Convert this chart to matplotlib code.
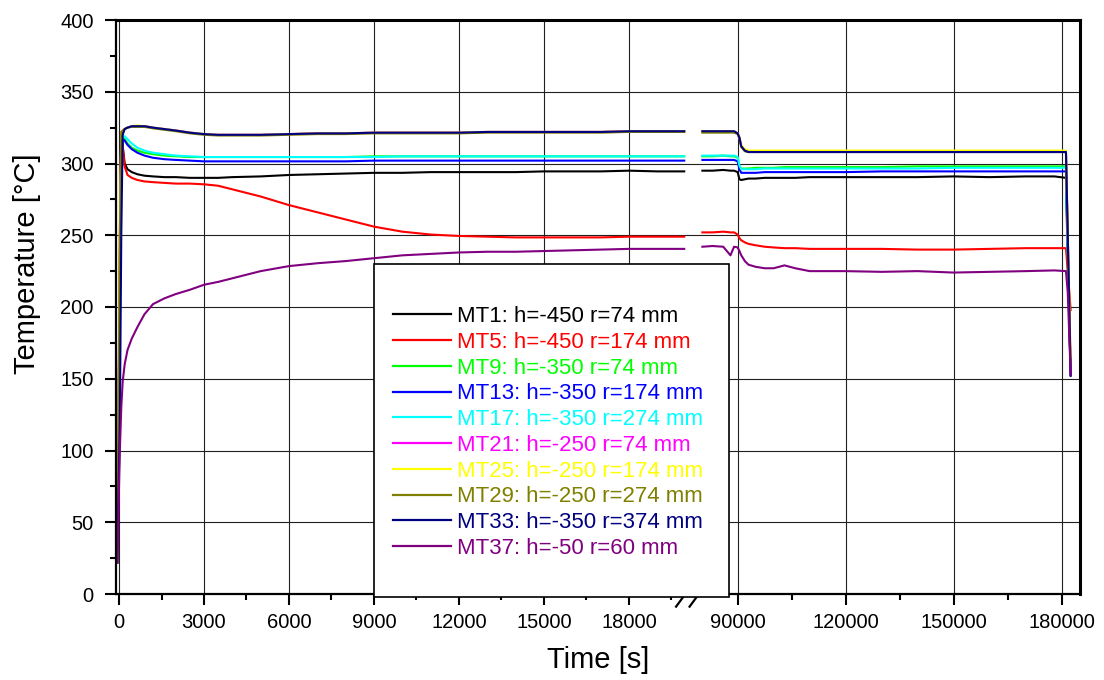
import numpy as np
import matplotlib
matplotlib.use("Agg")
import matplotlib.pyplot as plt
from matplotlib.patches import Rectangle
from matplotlib.ticker import FixedLocator

plt.rcParams["font.family"] = ["Liberation Sans", "DejaVu Sans"]

# ---- measurement data -------------------------------------------------------
# early heating phase (s)
t_early = [-60, 30, 80, 130, 200, 300, 450, 650, 900, 1200, 1600, 2000, 2500,
           3000, 3500, 4000, 5000, 6000, 7000, 8000, 9000, 10000, 11000, 12000,
           13000, 14000, 15000, 16000, 17000, 18000, 19000, 19950]
# late phase (s)
t_late = [80200, 83000, 86000, 88000, 89000, 90000, 90500, 91000, 92000, 93000,
          95000, 97500, 100000, 103000, 106000, 110000, 120000, 130000, 140000,
          150000, 160000, 170000, 178000, 181200, 181700, 182500]

mt1_early = [22, 230, 322, 312, 300, 296, 294, 292.5, 291.5, 291, 290.5, 290.5, 290,
             290, 290, 290.5, 291, 292, 292.5, 293, 293.5, 293.5, 294, 294, 294,
             294, 294.5, 294.5, 294.5, 295, 294.5, 294.5]
mt1_late = [295, 295, 295.5, 295, 295, 294, 289, 288.5, 289, 289.5, 289.5, 290, 290,
            290, 290, 290.5, 290.5, 290.5, 290.5, 291, 290.5, 291, 291, 290, 230, 153]

mt5_early = [22, 230, 318, 312, 298, 292, 290, 288.5, 287.5, 287, 286.5, 286, 286,
             285.5, 284.5, 282, 277, 271, 266, 261, 256, 252.5, 250.5, 249.5, 249,
             248.5, 248.5, 248.5, 248.5, 249, 249, 249]
mt5_late = [252, 252, 252.5, 252, 252, 250.5, 248, 246.5, 245, 244, 243, 242, 241.5,
            241, 241, 240.5, 240.5, 240.5, 240, 240, 240.5, 241, 241, 241, 225, 198]

mt9_early = [22, 220, 312, 318, 317, 314, 311, 309, 307.5, 306.5, 305.5, 305, 304.5,
             304.5, 304.5, 304.5, 304.5, 304.5, 304.5, 304.5, 305, 305, 305, 305,
             305, 305, 305, 305, 305, 305, 305, 305]
mt9_late = [305, 305, 305.5, 305, 305, 304, 298, 296.5, 296.5, 296.5, 297, 297, 297,
            297.5, 297.5, 297.5, 297.5, 297.5, 298, 298, 298, 298, 298, 298, 240, 153]

mt13_early = [22, 200, 305, 317, 316, 313, 310, 307.5, 305.5, 304, 303, 302.5, 302,
              301.5, 301.5, 301.5, 301.5, 301.5, 301.5, 301.5, 302, 302, 302, 302,
              302, 302, 302, 302, 302, 302, 302, 302]
mt13_late = [302.5, 302.5, 302.5, 302.5, 302.5, 301.5, 296, 293.5, 293.5, 293.5,
             293.5, 294, 294, 294, 294, 294, 294, 294.5, 294.5, 294.5, 294.5, 294.5,
             294.5, 294.5, 240, 153]

mt17_early = [22, 220, 312, 319, 319, 317, 314, 311, 309, 307.5, 306.5, 305.5, 305,
              304.5, 304.5, 304.5, 304.5, 304.5, 304.5, 304.5, 304.5, 305, 305, 305,
              305, 305, 305, 305, 305, 305, 305, 305]
mt17_late = [305.5, 305.5, 305.5, 305.5, 305.5, 304.5, 298.5, 296, 296, 296, 296,
             296.5, 296.5, 296.5, 296.5, 296.5, 296.5, 296.5, 296.5, 297, 297, 297,
             297, 297, 240, 153]

mt21_early = [22, 250, 322, 323, 324, 325, 326, 326, 326, 325, 324, 323, 321.5,
              320.5, 320, 320, 320, 320.5, 321, 321, 321.5, 321.5, 321.5, 321.5,
              322, 322, 322, 322, 322, 322.5, 322.5, 322.5]
mt21_late = [322.5, 322.5, 322.5, 322.5, 322.5, 321, 318, 312, 309, 308, 308, 308,
             308, 308, 308, 308, 308, 308, 308, 308, 308, 308, 308, 308, 250, 153]

mt25_early = [22, 250, 322, 323, 324, 325, 326, 326.5, 326, 325, 324, 323, 321.5,
              320.5, 320, 320, 320, 320.5, 321, 321, 321.5, 321.5, 321.5, 321.5,
              322, 322, 322, 322, 322, 322.5, 322.5, 322.5]
mt25_late = [322.5, 322.5, 322.5, 322.5, 322.5, 321, 318.5, 313, 310, 309, 309, 309,
             309, 309, 309, 309, 309, 309, 309, 309, 309, 309, 309, 309, 250, 165]

mt29_early = [22, 250, 322, 323, 324, 325, 325.5, 325.5, 325.5, 324.5, 323.5, 322.5,
              321, 320, 319.5, 319.5, 319.5, 320, 320.5, 320.5, 321, 321, 321, 321,
              321.5, 321.5, 321.5, 321.5, 321.5, 322, 322, 322]
mt29_late = [321.5, 321.5, 321.5, 321.5, 321.5, 320.5, 317.5, 311.5, 308.5, 308,
             308, 308, 308, 308, 308, 308, 308, 308, 308, 308, 308, 308, 308, 308,
             250, 160]

mt33_early = [22, 120, 250, 320, 324, 325, 326, 326, 326, 325, 324, 323, 321.5,
              320.5, 320, 320, 320, 320.5, 321, 321, 321.5, 321.5, 321.5, 321.5,
              322, 322, 322, 322, 322, 322.5, 322.5, 322.5]
mt33_late = [322.5, 322.5, 322.5, 322.5, 322.5, 321, 318, 312, 309, 308, 308, 308,
             308, 308, 308, 308, 308, 308, 308, 308, 308, 308, 308, 308, 250, 152]

mt37_early = [22, 100, 130, 148, 160, 170, 178, 186, 195, 202, 206, 209, 212, 215.5,
              217.5, 220, 225, 228.5, 230.5, 232, 234, 236, 237, 238, 238.5, 238.5,
              239, 239.5, 240, 240.5, 240.5, 240.5]
mt37_late = [242, 242.5, 242, 236, 242, 241.5, 239, 236, 232, 229.5, 228, 227, 227,
             229, 227, 225, 225, 224.5, 225, 224, 224.5, 225, 225.5, 225, 210, 153]

names = ["MT1", "MT5", "MT9", "MT13", "MT17", "MT21", "MT25", "MT29", "MT33", "MT37"]
positions = ["h=-450 r=74 mm", "h=-450 r=174 mm", "h=-350 r=74 mm",
             "h=-350 r=174 mm", "h=-350 r=274 mm", "h=-250 r=74 mm",
             "h=-250 r=174 mm", "h=-250 r=274 mm", "h=-350 r=374 mm",
             "h=-50 r=60 mm"]
colors = ["#000000", "#FF0000", "#00FF00", "#0000FF", "#00FFFF", "#FF00FF",
          "#FFFF00", "#808000", "#000080", "#800080"]
early = [mt1_early, mt5_early, mt9_early, mt13_early, mt17_early, mt21_early,
         mt25_early, mt29_early, mt33_early, mt37_early]
late = [mt1_late, mt5_late, mt9_late, mt13_late, mt17_late, mt21_late,
        mt25_late, mt29_late, mt33_late, mt37_late]

x_major = [0, 3000, 6000, 9000, 12000, 15000, 18000, 90000, 120000, 150000, 180000]
x_minor = [1500, 4500, 7500, 10500, 13500, 16500, 19500, 105000, 135000, 165000]

# ---- broken time axis: 0-20000 s and 80000 s onwards on one axis ------------
T1, T2 = 20000.0, 80000.0
GAP = 565.0          # width given to the omitted interval, in early-phase seconds
RATIO = 0.12706      # compression of the late phase relative to the early phase


def fwd(t):
    t = np.asarray(t, float)
    return np.where(t <= T1, t,
                    np.where(t >= T2, T1 + GAP + (t - T2) * RATIO,
                             T1 + (t - T1) * GAP / (T2 - T1)))


def inv(u):
    u = np.asarray(u, float)
    return np.where(u <= T1, u,
                    np.where(u >= T1 + GAP, T2 + (u - T1 - GAP) / RATIO,
                             T1 + (u - T1) * (T2 - T1) / GAP))


fig = plt.figure(figsize=(11.04, 6.8), dpi=100)
ax = fig.add_axes([116 / 1104, 86 / 680, 964 / 1104, 574 / 680])
ax.set_xscale("function", functions=(fwd, inv))

handles = []
for name, col, e, l in zip(names, colors, early, late):
    tt = list(t_early) + [np.nan] + list(t_late)
    vv = list(e) + [np.nan] + list(l)
    h, = ax.plot(tt, vv, color=col, lw=1.5, solid_joinstyle="round")
    handles.append(h)

ax.set_xlim(-106, 185100)
ax.set_ylim(0, 400)
ax.xaxis.set_major_locator(FixedLocator(x_major))
ax.xaxis.set_minor_locator(FixedLocator(x_minor))
ax.set_xticklabels([str(v) for v in x_major])
ax.set_yticks(np.arange(0, 401, 50))
ax.set_yticks(np.arange(25, 400, 50), minor=True)

ax.grid(True, which="major", color="#202020", lw=0.8)
ax.set_axisbelow(True)

ax.tick_params(which="major", direction="out", length=8, width=1.5,
               labelsize=14.5, color="k")
ax.tick_params(axis="y", which="major", pad=8)
ax.tick_params(axis="x", which="major", pad=6)
ax.tick_params(which="minor", direction="out", length=4, width=1.5, color="k")
for side, lw in [("left", 1.6), ("bottom", 1.6), ("top", 2.2), ("right", 2.2)]:
    ax.spines[side].set_linewidth(lw)

ax.set_xlabel("Time [s]", fontsize=21)
ax.xaxis.set_label_coords(0.5, -0.09)
ax.set_ylabel("Temperature [°C]", fontsize=21)
ax.yaxis.set_label_coords(-0.078, 0.575)

# axis-break marks
for x0, x1 in [(0.581, 0.588), (0.595, 0.602)]:
    ax.plot([x0, x1], [-0.022, -0.006], transform=ax.transAxes, color="k",
            lw=1.6, clip_on=False)

# legend box
box = Rectangle((0.2676, -0.005), 0.3683, 0.58, transform=ax.transAxes,
                facecolor="white", edgecolor="k", lw=1.2, zorder=5, clip_on=False)
ax.add_patch(box)
labels = [f"{n}: {p}" for n, p in zip(names, positions)]
leg = ax.legend(handles, labels, loc="upper left",
                bbox_to_anchor=((393 - 116) / 964, (594 - 306) / 574),
                frameon=False, fontsize=16, borderpad=0, borderaxespad=0,
                handlelength=2.6, handletextpad=0.3, labelspacing=0.215)
leg.set_zorder(6)
for txt, col in zip(leg.get_texts(), colors):
    txt.set_color(col)
for lh in leg.legend_handles:
    lh.set_linewidth(1.6)

fig.savefig("out.png", dpi=100)
